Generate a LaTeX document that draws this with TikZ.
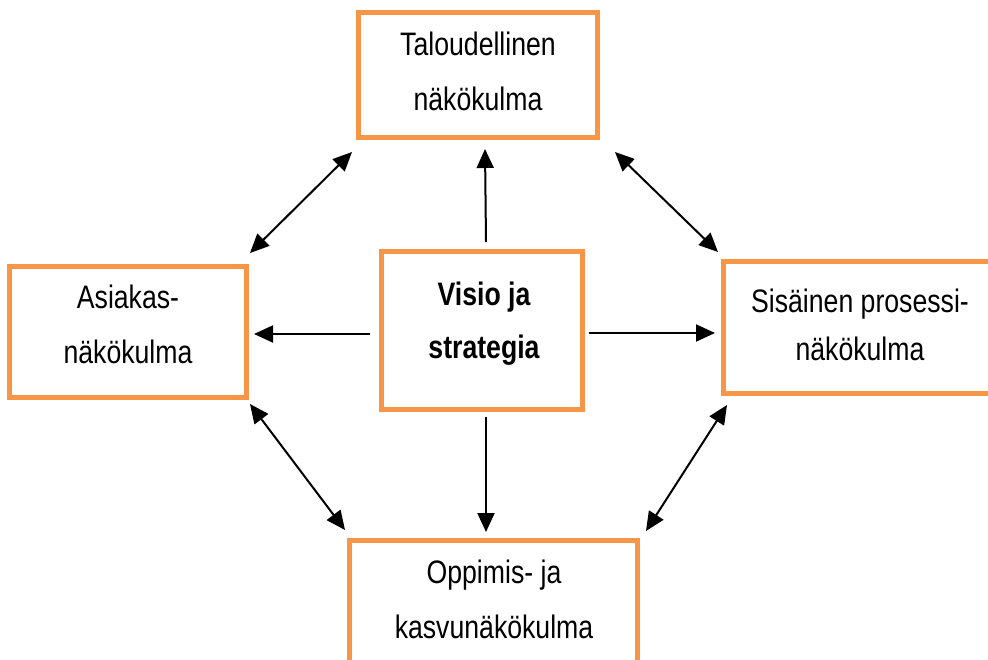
\documentclass[tikz,border=0pt]{standalone}
\usepackage{fontspec}
\setmainfont{Liberation Sans}[FakeStretch=0.82]
\usetikzlibrary{arrows.meta}
\definecolor{boxorange}{HTML}{F79646}
\tikzset{
  box/.style={draw=boxorange, line width=5pt, fill=white, inner sep=0pt},
  lbl/.style={anchor=base, inner sep=0pt, font=\fontsize{32.5}{40}\selectfont},
  blbl/.style={lbl, font=\fontsize{32.5}{40}\selectfont\bfseries},
  arr/.style={line width=2pt, -{Triangle[length=19pt,width=17pt]}},
  darr/.style={line width=2pt, {Triangle[length=19pt,width=17pt]}-{Triangle[length=19pt,width=17pt]}}
}
\begin{document}
\begin{tikzpicture}[x=1pt,y=-1pt]
\useasboundingbox (0,0) rectangle (988,659);
\clip (0,0) rectangle (988,659);
% boxes
\node[box, minimum width=239pt, minimum height=125pt] (top) at (478,75) {};
\node[box, minimum width=237pt, minimum height=131pt] (left) at (128,332) {};
\node[box, minimum width=273pt, minimum height=132pt] (right) at (860,327.5) {};
\node[box, minimum width=288pt, minimum height=125pt] (bottom) at (493.5,603) {};
\node[box, minimum width=201pt, minimum height=158pt] (center) at (482,330.5) {};
% texts
\node[lbl] (t1) at (478,55) {Taloudellinen};
\node[lbl] (t2) at (478,110) {näkökulma};
\node[lbl] (l1) at (128,308) {Asiakas-};
\node[lbl] (l2) at (128,363) {näkökulma};
\node[lbl] (r1) at (860,312) {Sisäinen prosessi-};
\node[lbl] (r2) at (860,360) {näkökulma};
\node[lbl] (b1) at (494,583) {Oppimis- ja};
\node[lbl] (b2) at (494,638) {kasvunäkökulma};
\node[blbl] (c1) at (484,305) {Visio ja};
\node[blbl] (c2) at (484,358) {strategia};
% connector end points
\coordinate (cu) at (486,242); \coordinate (tu) at (485,149);
\coordinate (cl) at (370,334); \coordinate (ll) at (254,334);
\coordinate (cr) at (589,333); \coordinate (rr) at (715,333);
\coordinate (cd) at (486,417); \coordinate (bd) at (486,532);
\coordinate (tl1) at (250,253); \coordinate (tl2) at (352,152);
\coordinate (tr1) at (615,152); \coordinate (tr2) at (718,252);
\coordinate (bl1) at (250,404); \coordinate (bl2) at (345,530);
\coordinate (br1) at (727,405); \coordinate (br2) at (646,531);
% arrows
\draw[arr] (cu) -- (tu);
\draw[arr] (cl) -- (ll);
\draw[arr] (cr) -- (rr);
\draw[arr] (cd) -- (bd);
\draw[darr] (tl1) -- (tl2);
\draw[darr] (tr1) -- (tr2);
\draw[darr] (bl1) -- (bl2);
\draw[darr] (br1) -- (br2);
\end{tikzpicture}
\end{document}
